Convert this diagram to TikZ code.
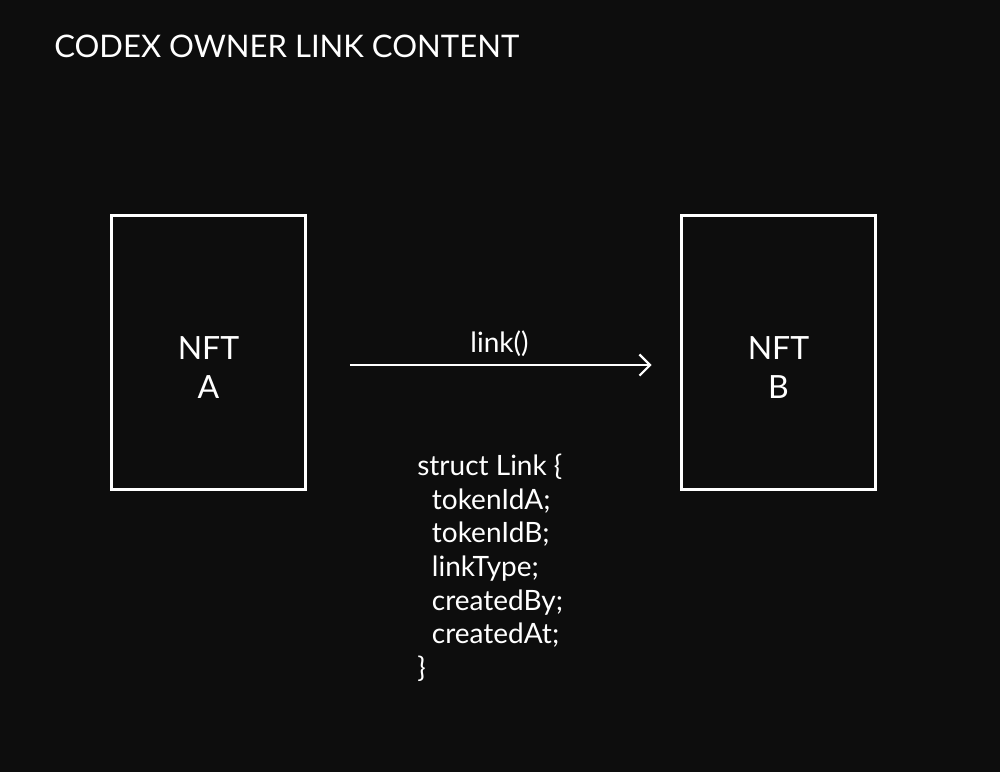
\documentclass[tikz,border=0pt]{standalone}
\usepackage{fontspec}
\setmainfont{Lato}
\usepackage{tikz}
\usetikzlibrary{arrows.meta}
\definecolor{backdrop}{RGB}{13,13,13}

\begin{document}
\begin{tikzpicture}[x=0.75pt,y=-0.75pt,
    nftbox/.style={draw=white,line width=2.2pt,minimum width=146pt,minimum height=206pt},
    nfttext/.style={text=white,align=center,font=\fontsize{24}{29}\selectfont},
    codetext/.style={text=white,align=left,font=\fontsize{21}{25.2}\selectfont,inner sep=0pt}]
            \fill[fill=backdrop] (0,0) rectangle (1000,772);

            \node[anchor=base west,text=white,font=\fontsize{23.3}{28}\selectfont,inner sep=0pt] (title) at (54,57.5) {CODEX OWNER LINK CONTENT};

            \node[nftbox] (nfta) at (208.5,352.5) {};
            \node[nftbox] (nftb) at (778.5,352.5) {};
            \node[nfttext] (labela) at ([yshift=-11.5pt]nfta.center) {NFT\\A};
            \node[nfttext] (labelb) at ([yshift=-11.5pt]nftb.center) {NFT\\B};

            \draw[white,line width=1.7pt,-{Straight Barb[length=8pt,width=16pt,line width=1.7pt]},shorten <=32pt,shorten >=21pt] (nfta.east |- 0,365) -- (nftb.west |- 0,365) node[midway,anchor=base,xshift=4.5pt,yshift=9.75pt,text=white,font=\fontsize{21}{25}\selectfont] (call) {link()};

            \node[codetext,anchor=north west] (linkstruct) at (417,454) {struct Link \{\\
              \hspace{11pt}tokenIdA;\\
              \hspace{11pt}tokenIdB;\\
              \hspace{11pt}linkType;\\
              \hspace{11pt}createdBy;\\
              \hspace{11pt}createdAt;\\
              \}};
        \end{tikzpicture}
\end{document}
